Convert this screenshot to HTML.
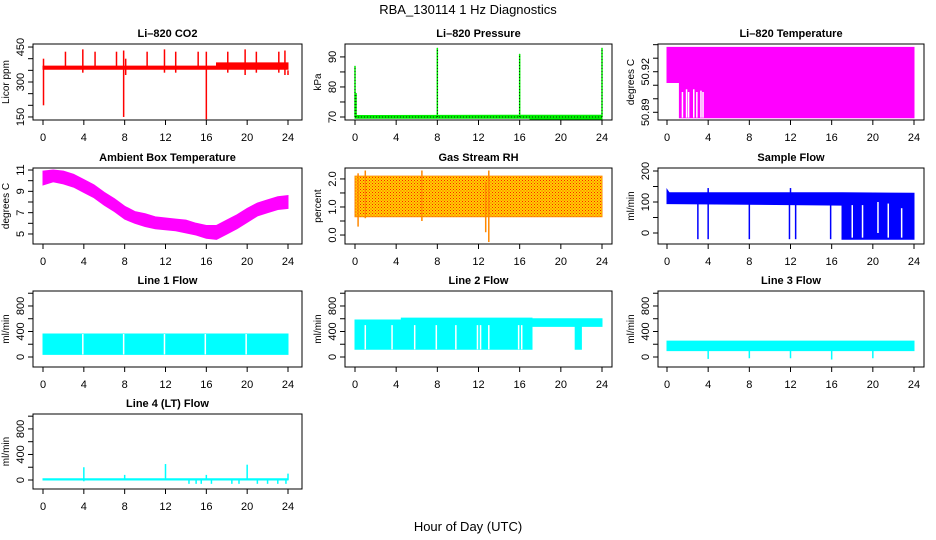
<!DOCTYPE html>
<html><head><meta charset="utf-8"><style>
html,body{margin:0;padding:0;background:#fff}
svg{display:block;font-family:"Liberation Sans",sans-serif}
</style></head><body>
<svg id="chart" width="936" height="540" viewBox="0 0 936 540" xmlns="http://www.w3.org/2000/svg">
<defs>
<pattern id="rhpat" width="3" height="3" patternUnits="userSpaceOnUse">
<rect width="3" height="3" fill="#ffd000"/><rect width="1" height="1" fill="#ff2000"/><rect x="1.5" y="1.5" width="1" height="1" fill="#ff4000"/>
</pattern>
</defs>
<text x="468" y="14" text-anchor="middle" font-size="13">RBA_130114  1 Hz Diagnostics</text>
<text x="468" y="531" text-anchor="middle" font-size="13">Hour of Day (UTC)</text>
</svg>
<script>
// ---- data ----
const xTicks = [0,4,8,12,16,20,24];
const hoursHourly = [0,1,2,3,4,5,6,7,8,9,10,11,12,13,14,15,16,17,18,19,20,21,22,23,24];

const co2Hours = [0,17,17,24];
const co2Low = [355,355,355,355];
const co2High = [368,368,382,382];
const co2Spikes = [[0.05,200,400],[2.2,360,430],[3.9,340,440],[5.1,360,430],[7.2,360,430],[7.9,150,435],[8.1,330,400],[10.2,360,430],[11.9,340,440],[13,340,430],[15.2,360,430],[16,140,430],[18.1,340,430],[19.8,330,440],[20.9,340,430],[23.1,340,430],[23.7,330,435],[24,330,350]];

const presHours = [0,17,17,24];
const presLow = [69.6,69.6,69.2,69.2];
const presHigh = [70.5,70.6,70.6,70.6];
const presSpikes = [[0,70,87],[0.1,70,78],[8,70,93],[16,70,91],[24,70,93]];

const tempHours = [0,1.2,1.2,3.6,3.6,24];
const tempLow = [50.912,50.912,50.886,50.886,50.886,50.886];
const tempHigh = [50.938,50.938,50.938,50.938,50.938,50.938];
const tempGaps = [[1.5,50.886,50.905],[1.9,50.886,50.907],[2.1,50.886,50.905],[2.6,50.886,50.907],[2.9,50.886,50.905],[3.3,50.886,50.906],[3.5,50.886,50.905]];

const ambLow = [9.6,9.9,9.7,9.4,8.9,8.4,7.7,7.1,6.4,6.0,5.7,5.5,5.4,5.3,5.1,4.9,4.6,4.5,5.0,5.5,6.1,6.7,7.0,7.3,7.4];
const ambHigh = [10.9,11.0,10.9,10.6,10.1,9.6,8.9,8.3,7.6,7.1,6.9,6.6,6.5,6.4,6.3,6.0,5.8,5.8,6.3,6.8,7.4,7.9,8.2,8.5,8.6];

const rhHours = [0,24];
const rhLow = [0.65,0.65];
const rhHigh = [2.1,2.1];
const rhSpikes = [[0.3,0.3,2.2],[12.7,0.1,1.9],[13,-0.25,2.3],[1,0.6,2.3],[6.5,0.5,2.3]];

const sampHours = [0,0.2,17,17,24];
const sampLow = [95,95,90,-20,-20];
const sampHigh = [140,130,130,130,128];
const sampSpikes = [[3,-20,100],[4,-20,100],[8,-20,100],[11.9,-20,100],[12.5,-20,100],[15.9,-20,100],[4,100,145],[12,100,145]];
const sampGaps = [[18,-15,90],[19,-15,90],[20.5,0,100],[21.5,-15,95],[22.8,-15,80]];

const l1Hours = [0,24];
const l1Low = [40,40];
const l1High = [360,360];
const l1Gaps = [[3.9,40,360],[7.9,40,360],[11.9,40,360],[15.9,40,360],[19.9,40,360]];

const l2Hours = [0,4.5,4.5,17.2,17.2,21.4,21.4,22,22,24];
const l2Low = [120,120,120,120,480,480,120,120,480,480];
const l2High = [580,580,610,610,600,600,600,600,600,600];
const l2Gaps = [[1.0,120,500],[3.6,120,500],[5.8,120,500],[7.9,120,500],[9.8,120,500],[11.9,120,500],[12.2,120,500],[13.0,120,500],[15.9,120,500],[16.2,120,500]];

const l3Hours = [0,24];
const l3Low = [100,100];
const l3High = [250,250];
const l3Spikes = [[4,-30,100],[8,-20,100],[12,-20,100],[16,-40,100],[20,-20,100]];

const l4Hours = [0,24];
const l4Low = [0,0];
const l4High = [20,20];
const l4Spikes = [[4,-20,200],[8,0,80],[12,0,250],[16,0,80],[20,0,240],[24,0,100],[14.3,-60,0],[15,-60,0],[15.5,-60,0],[16.5,-60,0],[18.5,-60,0],[19.2,-60,0],[21,-60,0],[22,-60,0],[23,-60,0],[23.8,-60,0]];

// ---- layout ----
const NS = "http://www.w3.org/2000/svg";
const svg = document.getElementById('chart');
const cols = [{l:33,r:302,x0:43,x24:288},{l:345,r:612,x0:355,x24:602},{l:658,r:924,x0:667,x24:914}];
const rows = [{t:44,b:120},{t:168,b:244},{t:291,b:367},{t:414,b:489}];

function el(tag, attrs){const e=document.createElementNS(NS,tag);for(const k in attrs)e.setAttribute(k,attrs[k]);return e;}

const panels = [
 {name:'co2',title:'Li\u2013820 CO2',ylab:'Licor ppm',c:0,r:0,ylim:[137,463],ticks:[150,200,250,300,350,400,450],labels:['150','300','450'],color:'#ff0000',hours:co2Hours,low:co2Low,high:co2High,spikes:co2Spikes},
 {name:'pressure',title:'Li\u2013820 Pressure',ylab:'kPa',c:1,r:0,ylim:[69,94.3],ticks:[70,75,80,85,90],labels:['70','80','90'],color:'#00ee00',hours:presHours,low:presLow,high:presHigh,spikes:presSpikes,dotted:true},
 {name:'li820-temperature',title:'Li\u2013820 Temperature',ylab:'degrees C',c:2,r:0,ylim:[50.8843,50.9405],ticks:[50.89,50.90,50.91,50.92,50.93,50.94],labels:['50.89','50.92'],color:'#ff00ff',hours:tempHours,low:tempLow,high:tempHigh,gaps:tempGaps},
 {name:'ambient-temperature',title:'Ambient Box Temperature',ylab:'degrees C',c:0,r:1,ylim:[4.06,11.19],ticks:[5,6,7,8,9,10,11],labels:['5','7','9','11'],color:'#ff00ff',hours:hoursHourly,low:ambLow,high:ambHigh},
 {name:'gas-stream-rh',title:'Gas Stream RH',ylab:'percent',c:1,r:1,ylim:[-0.32,2.39],ticks:[0,0.5,1,1.5,2],labels:['0.0','1.0','2.0'],color:'url(#rhpat)',scolor:'#ff8800',hours:rhHours,low:rhLow,high:rhHigh,spikes:rhSpikes},
 {name:'sample-flow',title:'Sample Flow',ylab:'ml/min',c:2,r:1,ylim:[-35.5,209.7],ticks:[0,50,100,150,200],labels:['0','100','200'],color:'#0000ff',hours:sampHours,low:sampLow,high:sampHigh,spikes:sampSpikes,gaps:sampGaps},
 {name:'line1-flow',title:'Line 1 Flow',ylab:'ml/min',c:0,r:2,ylim:[-157,1035],ticks:[0,200,400,600,800,1000],labels:['0','400','800'],color:'#00ffff',hours:l1Hours,low:l1Low,high:l1High,gaps:l1Gaps},
 {name:'line2-flow',title:'Line 2 Flow',ylab:'ml/min',c:1,r:2,ylim:[-157,1035],ticks:[0,200,400,600,800,1000],labels:['0','400','800'],color:'#00ffff',hours:l2Hours,low:l2Low,high:l2High,gaps:l2Gaps},
 {name:'line3-flow',title:'Line 3 Flow',ylab:'ml/min',c:2,r:2,ylim:[-157,1035],ticks:[0,200,400,600,800,1000],labels:['0','400','800'],color:'#00ffff',hours:l3Hours,low:l3Low,high:l3High,spikes:l3Spikes},
 {name:'line4-flow',title:'Line 4 (LT) Flow',ylab:'ml/min',c:0,r:3,ylim:[-141,1034],ticks:[0,200,400,600,800,1000],labels:['0','400','800'],color:'#00ffff',hours:l4Hours,low:l4Low,high:l4High,spikes:l4Spikes}
];

panels.forEach(p=>{
  const C=cols[p.c], R=rows[p.r];
  const xs=h=>C.x0+(C.x24-C.x0)*h/24;
  const ys=v=>R.b-(v-p.ylim[0])/(p.ylim[1]-p.ylim[0])*(R.b-R.t);
  const g=el('g',{});
  
  
  svg.appendChild(g);
  const clip=el('clipPath',{id:'clip-'+p.name});
  clip.appendChild(el('rect',{x:C.l,y:R.t,width:C.r-C.l,height:R.b-R.t}));
  g.appendChild(clip);
  const dg=el('g',{'clip-path':'url(#clip-'+p.name+')'});
  
  
  g.appendChild(dg);
  let pts=[];
  for(let i=0;i<p.hours.length;i++) pts.push(xs(p.hours[i]).toFixed(1)+','+ys(p.high[i]).toFixed(1));
  for(let i=p.hours.length-1;i>=0;i--) pts.push(xs(p.hours[i]).toFixed(1)+','+ys(p.low[i]).toFixed(1));
  const band=el('polygon',{points:pts.join(' '),fill:p.color,stroke:p.scolor||p.color,'stroke-width':1});
  
  
  dg.appendChild(band);
  (p.gaps||[]).forEach(s=>{
    const ln=el('line',{x1:xs(s[0]),x2:xs(s[0]),y1:ys(s[1]),y2:ys(s[2]),stroke:'#fff','stroke-width':1.5});
    
    
    dg.appendChild(ln);
  });
  (p.spikes||[]).forEach(s=>{
    const ln=el('line',{x1:xs(s[0]),x2:xs(s[0]),y1:ys(s[1]),y2:ys(s[2]),stroke:p.scolor||p.color,'stroke-width':1.5});
    
    
    dg.appendChild(ln);
    if(p.dotted){
      const d=el('line',{x1:xs(s[0]),x2:xs(s[0]),y1:ys(s[1]),y2:ys(s[2]),stroke:'#000','stroke-width':0.8,'stroke-dasharray':'1,2'});
      
      
      dg.appendChild(d);
    }
  });
  if(p.dotted){
    const d=el('line',{x1:xs(0),x2:xs(24),y1:ys(70),y2:ys(70),stroke:'#000','stroke-width':0.8,'stroke-dasharray':'1,2'});
    
    
    dg.appendChild(d);
  }
  const box=el('rect',{x:C.l,y:R.t,width:C.r-C.l,height:R.b-R.t,fill:'none',stroke:'#000','stroke-width':1});
  
  
  g.appendChild(box);
  xTicks.forEach(t=>{
    g.appendChild(el('line',{x1:xs(t),x2:xs(t),y1:R.b,y2:R.b+5,stroke:'#000'}));
    const tx=el('text',{x:xs(t),y:R.b+21,'text-anchor':'middle','font-size':11});
    tx.textContent=t;
    
    
    g.appendChild(tx);
  });
  p.ticks.forEach(t=>{
    g.appendChild(el('line',{x1:C.l-5,x2:C.l,y1:ys(t),y2:ys(t),stroke:'#000'}));
  });
  p.labels.forEach(l=>{
    const y=ys(parseFloat(l)), x=C.l-9;
    const tx=el('text',{x:x,y:y,'text-anchor':'middle','font-size':11,transform:'rotate(-90 '+x+' '+y+')'});
    tx.textContent=l;
    
    
    g.appendChild(tx);
  });
  const ym=(R.t+R.b)/2, yx=C.l-24;
  const yl=el('text',{x:yx,y:ym,'text-anchor':'middle','font-size':10,transform:'rotate(-90 '+yx+' '+ym+')'});
  yl.textContent=p.ylab;
  
  
  g.appendChild(yl);
  const ti=el('text',{x:(C.l+C.r)/2,y:R.t-7,'text-anchor':'middle','font-size':11,'font-weight':'bold'});
  ti.textContent=p.title;
  
  
  g.appendChild(ti);
});
</script>
</body></html>
